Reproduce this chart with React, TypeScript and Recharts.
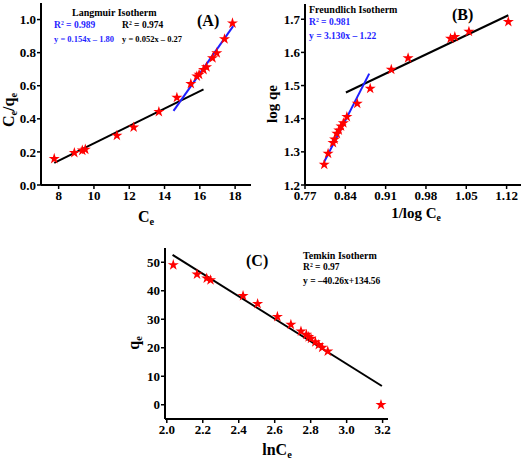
import { ComposedChart, Line, Scatter, XAxis, YAxis, ZAxis } from 'recharts';

const FONT = '"Liberation Serif", "DejaVu Serif", serif';
const BLUE = '#1f1fff';
const RED = '#ff0000';

// (A) Langmuir
const aX = [7.75, 8.89, 9.34, 9.51, 11.3, 12.25, 13.68, 14.7, 15.49, 15.83, 15.96, 16.21, 16.38, 16.72, 16.96, 17.4, 17.85];
const aY = [0.159, 0.195, 0.209, 0.215, 0.299, 0.349, 0.442, 0.528, 0.612, 0.657, 0.667, 0.697, 0.713, 0.767, 0.797, 0.882, 0.978];
const aBlackX = [7.75, 16.21];
const aBlackY = [0.134, 0.578];
const aBlueX = [14.51, 17.89];
const aBlueY = [0.448, 0.96];
const aXTicks = [8, 10, 12, 14, 16, 18];
const aYTicks = [0, 0.2, 0.4, 0.6, 0.8, 1.0];

// (B) Freundlich
const bX = [0.8034, 0.8101, 0.8186, 0.8214, 0.8253, 0.8287, 0.8326, 0.8366, 0.8427, 0.8607, 0.8832, 0.9198, 0.949, 1.0227, 1.0301, 1.0546, 1.123];
const bY = [1.262, 1.295, 1.327, 1.338, 1.355, 1.365, 1.377, 1.387, 1.406, 1.446, 1.491, 1.548, 1.583, 1.642, 1.647, 1.663, 1.692];
const bBlueX = [0.8034, 0.8815];
const bBlueY = [1.27, 1.536];
const bBlackX = [0.841, 1.123];
const bBlackY = [1.479, 1.712];
const bXTicks = [0.77, 0.84, 0.91, 0.98, 1.05, 1.12];
const bYTicks = [1.2, 1.3, 1.4, 1.5, 1.6, 1.7];

// (C) Temkin
const cX = [2.036, 2.168, 2.222, 2.243, 2.424, 2.505, 2.615, 2.69, 2.746, 2.776, 2.789, 2.802, 2.826, 2.845, 2.864, 2.895, 3.191];
const cY = [49.06, 45.77, 44.37, 43.78, 38.26, 35.45, 30.9, 28.17, 25.8, 24.65, 23.8, 23.24, 22.04, 21.0, 20.07, 18.77, 0];
const cLineX = [2.032, 3.196];
const cLineY = [52.6, 6.57];
const cXTicks = [2.0, 2.2, 2.4, 2.6, 2.8, 3.0, 3.2];
const cYTicks = [0, 10, 20, 30, 40, 50];

const zip = (xs: number[], ys: number[]) => xs.map((x, i) => ({ x, y: ys[i] }));

const tickStyle = { fill: '#000', fontSize: 13, fontWeight: 700, fontFamily: FONT };

type FitLine = { xs: number[]; ys: number[]; color: string };

function Panel(props: {
  left: number; top: number; width: number; height: number;
  plot: { l: number; t: number; r: number; b: number };
  xDomain: [number, number]; yDomain: [number, number];
  xTicks: number[]; yTicks: number[];
  xFmt: (v: number) => string; yFmt: (v: number) => string;
  xs: number[]; ys: number[]; lines: FitLine[];
}) {
  const { left, top, width, height, plot } = props;
  return (
    <div style={{ position: 'absolute', left, top, width, height }}>
      <ComposedChart
        width={width}
        height={height}
        margin={{ top: plot.t, right: width - plot.r, bottom: 0, left: 0 }}
      >
        <XAxis
          type="number"
          dataKey="x"
          domain={props.xDomain}
          ticks={props.xTicks}
          tickFormatter={props.xFmt}
          allowDataOverflow
          height={height - plot.b}
          tickSize={4}
          tickMargin={2}
          axisLine={{ stroke: '#000', strokeWidth: 2 }}
          tickLine={{ stroke: '#000', strokeWidth: 1.5 }}
          tick={tickStyle}
          interval={0}
        />
        <XAxis xAxisId="top" orientation="top" type="number" domain={props.xDomain} height={0} tick={false} tickLine={false} axisLine={{ stroke: '#000', strokeWidth: 2 }} />
        <YAxis
          type="number"
          dataKey="y"
          domain={props.yDomain}
          ticks={props.yTicks}
          tickFormatter={props.yFmt}
          allowDataOverflow
          width={plot.l}
          tickSize={4}
          tickMargin={1}
          axisLine={{ stroke: '#000', strokeWidth: 2 }}
          tickLine={{ stroke: '#000', strokeWidth: 1.5 }}
          tick={tickStyle}
          interval={0}
        />
        <YAxis yAxisId="right" orientation="right" type="number" domain={props.yDomain} width={0} tick={false} tickLine={false} axisLine={{ stroke: '#000', strokeWidth: 2 }} />
        <ZAxis range={[38, 38]} />
        {props.lines.map((ln, i) => (
          <Line
            key={i}
            data={zip(ln.xs, ln.ys)}
            dataKey="y"
            stroke={ln.color}
            strokeWidth={2}
            dot={false}
            activeDot={false}
            isAnimationActive={false}
          />
        ))}
        <Scatter data={zip(props.xs, props.ys)} shape="star" fill={RED} isAnimationActive={false} />
      </ComposedChart>
    </div>
  );
}

const txt = (left: number, top: number, size: number, color = '#000'): React.CSSProperties => ({
  position: 'absolute', left, top, fontSize: size, lineHeight: 1, color,
  fontFamily: FONT, fontWeight: 700, whiteSpace: 'nowrap',
});

const sub = { fontSize: '0.65em', verticalAlign: '-0.3em' } as React.CSSProperties;
const sup = { fontSize: '0.6em', verticalAlign: '0.5em' } as React.CSSProperties;

function RotLabel({ cx, cy, size, children }: { cx: number; cy: number; size: number; children: React.ReactNode }) {
  return (
    <div style={{ ...txt(cx, cy, size), transform: 'translate(-50%, -50%) rotate(-90deg)' }}>{children}</div>
  );
}

function CenterLabel({ cx, cy, size, children }: { cx: number; cy: number; size: number; children: React.ReactNode }) {
  return <div style={{ ...txt(cx, cy, size), transform: 'translate(-50%, -50%)' }}>{children}</div>;
}

export default function App() {
  return (
    <div style={{ position: 'absolute', left: 0, top: 0, width: 524, height: 462, background: '#fff', overflow: 'hidden' }}>
      <Panel
        left={0} top={0} width={262} height={230}
        plot={{ l: 41, t: 3, r: 251, b: 185 }}
        xDomain={[7, 18.9]} yDomain={[0, 1.1]}
        xTicks={aXTicks} yTicks={aYTicks}
        xFmt={(v) => String(v)} yFmt={(v) => v.toFixed(1)}
        xs={aX} ys={aY}
        lines={[{ xs: aBlackX, ys: aBlackY, color: '#000' }, { xs: aBlueX, ys: aBlueY, color: BLUE }]}
      />
      <Panel
        left={262} top={0} width={262} height={230}
        plot={{ l: 43, t: 4, r: 259, b: 185 }}
        xDomain={[0.77, 1.145]} yDomain={[1.2, 1.746]}
        xTicks={bXTicks} yTicks={bYTicks}
        xFmt={(v) => v.toFixed(2)} yFmt={(v) => v.toFixed(1)}
        xs={bX} ys={bY}
        lines={[{ xs: bBlackX, ys: bBlackY, color: '#000' }, { xs: bBlueX, ys: bBlueY, color: BLUE }]}
      />
      <Panel
        left={100} top={230} width={320} height={232}
        plot={{ l: 65, t: 18, r: 288, b: 189 }}
        xDomain={[1.99, 3.23]} yDomain={[-5, 55]}
        xTicks={cXTicks} yTicks={cYTicks}
        xFmt={(v) => v.toFixed(1)} yFmt={(v) => String(v)}
        xs={cX} ys={cY}
        lines={[{ xs: cLineX, ys: cLineY, color: '#000' }]}
      />

      {/* panel A texts */}
      <div style={txt(72, 8, 10)}>Langmuir Isotherm</div>
      <div style={txt(54, 21, 9.5, BLUE)}>R<span style={sup}>2</span> = 0.989</div>
      <div style={txt(54, 35, 8.5, BLUE)}>y = 0.154x – 1.80</div>
      <div style={txt(122, 21, 9.5)}>R<span style={sup}>2</span> = 0.974</div>
      <div style={txt(122, 35, 8.5)}>y = 0.052x – 0.27</div>
      <div style={txt(197, 13, 16)}>(A)</div>
      <RotLabel cx={10} cy={110} size={16}>C<span style={sub}>e</span>/q<span style={sub}>e</span></RotLabel>
      <CenterLabel cx={146} cy={218} size={16}>C<span style={sub}>e</span></CenterLabel>

      {/* panel B texts */}
      <div style={txt(309, 5, 10)}>Freundlich Isotherm</div>
      <div style={txt(309, 18, 9.5, BLUE)}>R<span style={sup}>2</span> = 0.981</div>
      <div style={txt(309, 32, 9.5, BLUE)}>y = 3.130x – 1.22</div>
      <div style={txt(452, 7, 16)}>(B)</div>
      <RotLabel cx={272} cy={104} size={15}>log qe</RotLabel>
      <CenterLabel cx={416} cy={214} size={15}>1/log C<span style={sub}>e</span></CenterLabel>

      {/* panel C texts */}
      <div style={txt(303, 251, 10)}>Temkin Isotherm</div>
      <div style={txt(303, 263, 9.5)}>R<span style={sup}>2</span> = 0.97</div>
      <div style={txt(303, 277, 9.5)}>y = –40.26x+134.56</div>
      <div style={txt(246, 253, 16)}>(C)</div>
      <RotLabel cx={135} cy={343} size={16}>q<span style={sub}>e</span></RotLabel>
      <CenterLabel cx={277} cy={451} size={16}>lnC<span style={sub}>e</span></CenterLabel>
    </div>
  );
}
